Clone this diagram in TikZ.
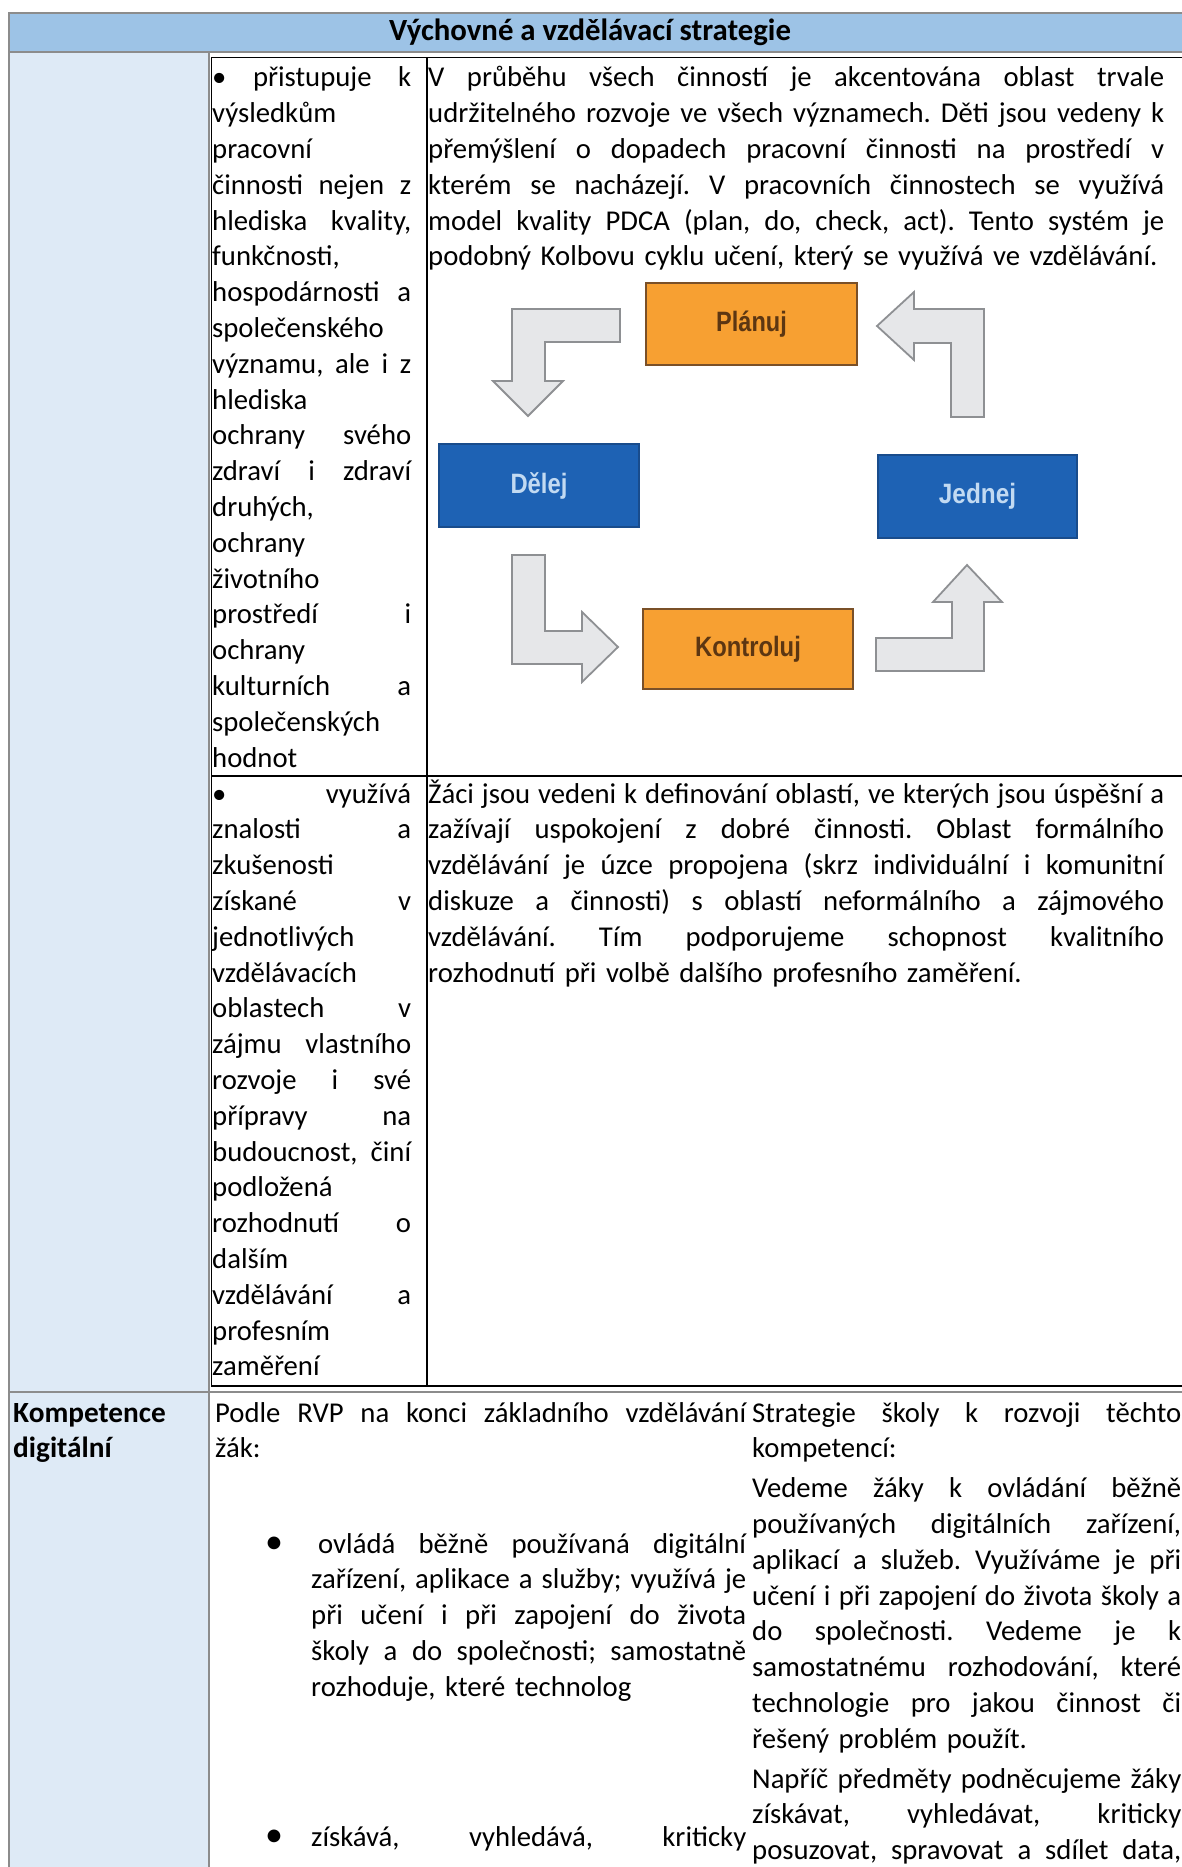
\documentclass[tikz,border=0pt]{standalone}
\usepackage{fontspec}
\setmainfont{Carlito}
\newfontfamily\pdcafont{Liberation Sans}
\usepackage{graphicx}
\usepackage{xcolor}
\definecolor{hdrblue}{HTML}{9DC3E6}
\definecolor{colblue}{HTML}{DEEAF6}
\definecolor{rulegray}{HTML}{8C8C8C}
\definecolor{pdcaorange}{HTML}{F7A032}
\definecolor{pdcaorangeline}{HTML}{7A5028}
\definecolor{pdcablue}{HTML}{1E62B4}
\definecolor{pdcablueline}{HTML}{194C8C}
\definecolor{arrowfill}{HTML}{E6E7E9}
\definecolor{arrowline}{HTML}{8E9093}
\definecolor{planfont}{HTML}{5C3612}
\definecolor{dofont}{HTML}{C2DAF2}
\newcommand\jl[1]{\leavevmode\hbox to \hsize{\spaceskip=0.226em plus 1fil minus 0.08em\relax #1}}
\newcommand\plainline[1]{\leavevmode\hbox to \hsize{#1\hss}}
\frenchspacing
\tikzset{
  txt/.style={anchor=base west, align=left, font=\fontsize{28.7}{35.8}\selectfont},
  boldtxt/.style={font=\bfseries\fontsize{29.3}{35.8}\selectfont},
  dot/.style={anchor=base, font=\fontsize{36}{36}\selectfont},
  outerrule/.style={rulegray, line width=2pt},
  innerrule/.style={black, line width=1.6pt},
  orangebox/.style={draw=pdcaorangeline, fill=pdcaorange, line width=1.5pt, text=planfont,
    font=\pdcafont\bfseries\fontsize{28}{30}\selectfont},
  bluebox/.style={draw=pdcablueline, fill=pdcablue, line width=1.5pt, text=dofont,
    font=\pdcafont\bfseries\fontsize{28}{30}\selectfont},
  blockarrow/.style={draw=arrowline, fill=arrowfill, line width=1.8pt, line join=miter}
}
\begin{document}
\begin{tikzpicture}[x=1pt, y=-1pt]
\tikzstyle{every node}+=[inner sep=0pt]
\useasboundingbox (0,0) rectangle (1182,1867);
\clip (0,0) rectangle (1182,1867);
\fill [hdrblue] (9,12.7) rectangle (1190,52);
\fill [colblue] (9,52) rectangle (209,1870);
\draw [outerrule] (1190,12.7) -- (9,12.7) -- (9,1870);
\draw [outerrule] (9,52) -- (1190,52);
\draw [outerrule] (209,52) -- (209,1870);
\draw [outerrule] (9,1391.5) -- (1190,1391.5);
\draw [innerrule] (1190,57.5) -- (211.5,57.5) -- (211.5,1386) -- (1190,1386);
\draw [innerrule] (427,57.5) -- (427,1386);
\draw [innerrule] (211.5,776) -- (1190,776);
\node [font=\bfseries\fontsize{30.8}{35.8}\selectfont, anchor=base] (title) at (590,41) {Výchovné a vzdělávací strategie};
\node [txt, text width=199pt] (workL) at (212,87) {\jl{• přistupuje k}\\
výsledkům\\
pracovní\\
\jl{činnosti nejen z}\\
\jl{hlediska kvality,}\\
funkčnosti,\\
\jl{hospodárnosti a}\\
společenského\\
\jl{významu, ale i z}\\
hlediska\\
\jl{ochrany svého}\\
\jl{zdraví i zdraví}\\
druhých,\\
ochrany\\
životního\\
\jl{prostředí i}\\
ochrany\\
\jl{kulturních a}\\
společenských\\
hodnot};
\node [txt, text width=736pt] (workR) at (428,87) {\jl{V průběhu všech činností je akcentována oblast trvale}\\
\jl{udržitelného rozvoje ve všech významech. Děti jsou vedeny k}\\
\jl{přemýšlení o dopadech pracovní činnosti na prostředí v}\\
\jl{kterém se nacházejí. V pracovních činnostech se využívá}\\
\jl{model kvality PDCA (plan, do, check, act). Tento systém je}\\
\plainline{podobný Kolbovu cyklu učení, který se využívá ve vzdělávání.}};
\draw [blockarrow] (620,309) -- (512,309) -- (512,381) -- (493,381) -- (528,416) -- (563,381) -- (545,381) -- (545,342) -- (620,342) -- cycle;
\draw [blockarrow] (984,417) -- (984,309) -- (914,309) -- (914,292) -- (877,326) -- (914,360) -- (914,343) -- (951,343) -- (951,417) -- cycle;
\draw [blockarrow] (876,638) -- (952,638) -- (952,602) -- (933,602) -- (967,565) -- (1002,602) -- (984,602) -- (984,671) -- (876,671) -- cycle;
\draw [blockarrow] (512,555) -- (545,555) -- (545,631) -- (582,631) -- (582,612) -- (618,647) -- (582,682) -- (582,664) -- (512,664) -- cycle;
\node [orangebox, minimum width=211pt, minimum height=82pt] (plan) at (751.5,324) {\scalebox{0.84}[1]{Plánuj}};
\node [bluebox, minimum width=200pt, minimum height=83pt] (do) at (539,485.5) {\scalebox{0.85}[1]{Dělej}};
\node [bluebox, minimum width=199pt, minimum height=83pt] (act) at (977.5,496.5) {\scalebox{0.87}[1]{Jednej}};
\node [orangebox, minimum width=210pt, minimum height=80pt] (check) at (748,649) {\scalebox{0.85}[1]{Kontroluj}};
\node [txt, text width=199pt] (useL) at (212,803) {\jl{• využívá}\\
\jl{znalosti a}\\
zkušenosti\\
\jl{získané v}\\
jednotlivých\\
vzdělávacích\\
\jl{oblastech v}\\
\jl{zájmu vlastního}\\
\jl{rozvoje i své}\\
\jl{přípravy na}\\
\jl{budoucnost, činí}\\
podložená\\
\jl{rozhodnutí o}\\
dalším\\
\jl{vzdělávání a}\\
profesním\\
zaměření};
\node [txt, text width=736pt] (useR) at (428,803) {\jl{Žáci jsou vedeni k definování oblastí, ve kterých jsou úspěšní a}\\
\jl{zažívají uspokojení z dobré činnosti. Oblast formálního}\\
\jl{vzdělávání je úzce propojena (skrz individuální i komunitní}\\
\jl{diskuze a činnosti) s oblastí neformálního a zájmového}\\
\jl{vzdělávání. Tím podporujeme schopnost kvalitního}\\
\plainline{rozhodnutí při volbě dalšího profesního zaměření.}};
\node [txt, boldtxt] (komp) at (13,1422) {Kompetence};
\node [txt, boldtxt] (dig) at (13,1457) {digitální};
\node [txt, text width=531pt] (rvp) at (215,1422) {\jl{Podle RVP na konci základního vzdělávání}\\
žák:};
\node [dot] (dotA) at (274,1553) {•};
\node [txt, text width=435pt] (itemA) at (311,1553) {\jl{\hspace*{7pt}ovládá běžně používaná digitální}\\
\jl{zařízení, aplikace a služby; využívá je}\\
\jl{při učení i při zapojení do života}\\
\jl{školy a do společnosti; samostatně}\\
rozhoduje, které technolog};
\node [dot] (dotB) at (274,1846) {•};
\node [txt, text width=435pt] (itemB) at (311,1846) {\jl{získává, vyhledává, kriticky}};
\node [txt, text width=429pt] (strat) at (752,1422) {\jl{Strategie školy k rozvoji těchto}\\
kompetencí:\\[4pt]
\jl{Vedeme žáky k ovládání běžně}\\
\jl{používaných digitálních zařízení,}\\
\jl{aplikací a služeb. Využíváme je při}\\
\jl{učení i při zapojení do života školy a}\\
\jl{do společnosti. Vedeme je k}\\
\jl{samostatnému rozhodování, které}\\
\jl{technologie pro jakou činnost či}\\
řešený problém použít.\\[4pt]
\jl{Napříč předměty podněcujeme žáky}\\
\jl{získávat, vyhledávat, kriticky}\\
\jl{posuzovat, spravovat a sdílet data,}};
\end{tikzpicture}
\end{document}
